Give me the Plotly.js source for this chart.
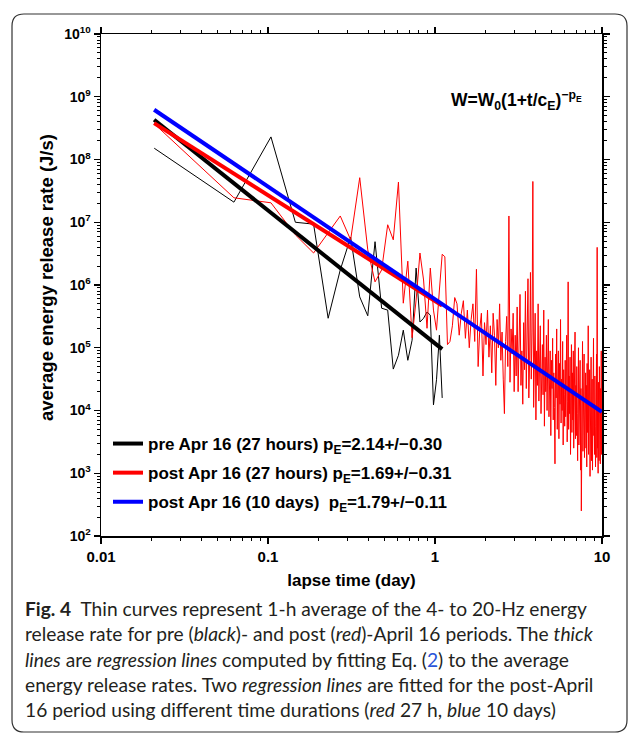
<!DOCTYPE html>
<html><head><meta charset="utf-8">
<script src="https://cdn.plot.ly/plotly-3.0.1.min.js"></script>
<style>html,body{margin:0;padding:0;background:#fff}#chart{width:635px;height:739px}</style>
</head><body><div id="chart"></div>
<script>
// 1-h averages, values given as log10 of energy release rate (J/s)
const preHourlyLog10 = [8.18, 7.32, 8.36, 7.00, 6.97, 5.47, 6.24, 6.76, 5.81, 5.51, 6.69, 5.63, 5.60, 4.66, 4.88, 5.28, 4.80, 5.12, 6.27, 5.41, 5.47, 5.57, 5.52, 4.09, 4.49, 5.20, 4.20];
const postHourlyLog10 = [
  8.57, 7.39, 7.31, 6.80, 6.51, 6.84, 7.10, 6.72, 7.71, 6.56, 6.05, 6.24, 6.96, 6.72, 7.64, 5.71, 6.38, 5.16, 5.76, 6.51, 6.08, 5.31, 6.27, 5.60, 5.28, 5.92, 6.49,
  6.45, 5.05, 5.10, 5.35, 5.80, 5.70, 5.20, 5.55, 5.75, 5.15, 5.60, 5.00, 5.45, 5.70, 5.10, 6.25, 4.70, 5.30, 5.55, 4.55, 5.40,
  5.05, 5.60, 4.85, 5.35, 4.60, 5.55, 5.20, 4.40, 5.45, 5.00, 5.70, 4.80, 5.25, 4.50, 3.95, 5.10, 5.50, 4.70, 7.10, 4.45, 5.30, 4.90, 5.55, 4.30,
  5.20, 4.55, 5.65, 4.30, 5.00, 5.85, 4.40, 4.95, 4.10, 5.40, 4.65, 5.90, 4.35, 5.10, 6.10, 4.20, 4.80, 6.20, 4.50, 5.25, 7.65, 4.05, 4.90, 5.55,
  3.85, 4.95, 4.40, 5.70, 4.15, 4.75, 5.35, 3.95, 4.60, 5.05, 4.25, 5.60, 3.75, 4.85, 4.30, 5.20, 4.00, 4.70, 5.45, 3.90, 4.55, 4.95, 3.60, 4.80,
  4.35, 5.15, 3.85, 4.60, 4.05, 3.15, 4.90, 4.20, 5.30, 3.70, 4.45, 4.95, 3.55, 4.75, 4.10, 5.45, 3.80, 4.50, 4.00, 5.10, 3.45, 4.65, 4.25, 3.75,
  4.80, 3.90, 4.40, 5.20, 3.50, 4.15, 6.05, 3.70, 4.55, 3.95, 4.85, 3.30, 4.30, 5.05, 3.65, 4.60, 3.85, 4.95, 3.40, 4.25, 3.75, 5.25, 3.55, 4.40,
  3.60, 4.70, 3.95, 3.20, 4.45, 5.00, 3.45, 4.10, 3.70, 4.80, 3.05, 4.35, 2.40, 4.55, 3.85, 5.10, 3.35, 4.20, 3.60, 4.90, 3.25, 4.05, 3.70, 4.60,
  3.40, 4.40, 3.10, 4.75, 3.65, 3.95, 5.35, 3.30, 4.15, 3.55, 4.65, 2.95, 4.00, 3.50, 4.85, 3.20, 3.90, 4.50, 3.05, 4.25, 3.45, 5.15, 3.60, 4.10,
  3.30, 4.55, 3.75, 3.10, 4.30, 3.55, 4.90, 3.25, 6.60, 3.40, 4.05, 3.00, 4.45, 3.60, 3.20, 4.70, 3.45, 3.85, 3.15, 4.35, 3.55, 4.95, 3.30, 4.00
];
// regression lines (end points, day / J/s)
const preFitTime = [0.0208, 1.104];
const preFitRate = [4.3e8, 9.5e4];
const post27FitTime = [0.0208, 1.104];
const post27FitRate = [3.8e8, 4.7e5];
const post10dFitTime = [0.0208, 9.98];
const post10dFitRate = [6.2e8, 9.5e3];

const legendNames = [
  'pre Apr 16 (27 hours) p<sub>E</sub>=2.14+/\u22120.30',
  'post Apr 16 (27 hours) p<sub>E</sub>=1.69+/\u22120.31',
  'post Apr 16 (10 days)&nbsp; p<sub>E</sub>=1.79+/\u22120.11'
];
const xTickVals = [0.01, 0.1, 1, 10];
const xTickText = ['0.01', '0.1', '1', '10'];
const yExponents = [2, 3, 4, 5, 6, 7, 8, 9, 10];

// hourly bin centres in days
const hourCentres = n => Array.from({length: n}, (_, i) => (i + 0.5) / 24);
const fromLog = a => a.map(v => Math.pow(10, v));

const FONT = 'Liberation Sans, Arial, Helvetica, sans-serif';
const L = 101, R = 602, T = 34, B = 536;
const px = x => (x - L) / (R - L);
const py = y => (B - y) / (B - T);

function minorVals(lo, hi) {
  const out = [];
  for (let e = lo; e < hi; e++) for (let d = 2; d <= 9; d++) out.push(d * Math.pow(10, e));
  return out;
}

const traces = [
  {x: hourCentres(preHourlyLog10.length), y: fromLog(preHourlyLog10), mode: 'lines',
   line: {color: 'black', width: 1}, showlegend: false, hoverinfo: 'skip'},
  {x: hourCentres(postHourlyLog10.length), y: fromLog(postHourlyLog10), mode: 'lines',
   line: {color: '#ff0000', width: 1}, showlegend: false, hoverinfo: 'skip'},
  {x: preFitTime, y: preFitRate, mode: 'lines', name: legendNames[0], legendgroup: 'a',
   line: {color: 'black', width: 4}},
  {x: post27FitTime, y: post27FitRate, mode: 'lines', name: legendNames[1], legendgroup: 'b',
   line: {color: '#ff0000', width: 4}},
  {x: post10dFitTime, y: post10dFitRate, mode: 'lines', name: legendNames[2], legendgroup: 'c',
   line: {color: '#0000ff', width: 4}}
];

const c = (x, y) => px(x).toFixed(5) + ',' + py(y).toFixed(5);
const bl = 12, br = 627, bt = 14, bb = 732, rr = 12;
const borderPath = 'M' + c(bl + rr, bt) + ' L' + c(br - rr, bt) + ' Q' + c(br, bt) + ' ' + c(br, bt + rr) +
  ' L' + c(br, bb - rr) + ' Q' + c(br, bb) + ' ' + c(br - rr, bb) +
  ' L' + c(bl + rr, bb) + ' Q' + c(bl, bb) + ' ' + c(bl, bb - rr) +
  ' L' + c(bl, bt + rr) + ' Q' + c(bl, bt) + ' ' + c(bl + rr, bt) + ' Z';

const captionLines = [
  '<b>Fig. 4</b>  Thin curves represent 1-h average of the 4- to 20-Hz energy',
  'release rate for pre (<i>black</i>)- and post (<i>red</i>)-April 16 periods. The <i>thick</i>',
  '<i>lines</i> are <i>regression lines</i> computed by fitting Eq. (<span style="color:#2b55d8">2</span>) to the average',
  'energy release rates. Two <i>regression lines</i> are fitted for the post-April',
  '16 period using different time durations (<i>red</i> 27 h, <i>blue</i> 10 days)'
];
const captionY = [608, 633, 659, 684, 709];

const annotations = [
  {xref: 'paper', yref: 'paper', x: px(584), y: py(100), xanchor: 'right', yanchor: 'middle', showarrow: false,
   text: '<b>W=W<sub>0</sub>(1+t/c<sub>E</sub>)<sup>\u2212p<sub>E</sub></sup></b>',
   font: {family: FONT, size: 17.5, color: 'black'}},
  {xref: 'paper', yref: 'paper', x: px(46), y: py(278), xanchor: 'center', yanchor: 'middle', showarrow: false,
   textangle: -90, text: '<b>average energy release rate (J/s)</b>',
   font: {family: FONT, size: 18.5, color: 'black'}}
];
captionLines.forEach((t, i) => annotations.push({
  xref: 'paper', yref: 'paper', x: px(23), y: py(captionY[i]), xanchor: 'left', yanchor: 'middle',
  showarrow: false, text: t, font: {family: 'Lato, Open Sans, sans-serif', size: 19.2, color: '#231f20'}
}));

const axisCommon = {
  type: 'log', showgrid: false, zeroline: false, showline: true, linecolor: 'black', linewidth: 1.5,
  mirror: 'allticks', ticks: 'outside', ticklen: 6, tickwidth: 1.2, tickcolor: 'black'
};

const layout = {
  width: 635, height: 739,
  margin: {l: L, r: 635 - R, t: T, b: 739 - B},
  paper_bgcolor: 'white', plot_bgcolor: 'white',
  font: {family: FONT, color: 'black'},
  xaxis: Object.assign({}, axisCommon, {
    range: [-2, 1], tickmode: 'array', tickvals: xTickVals, ticktext: xTickText,
    tickfont: {family: FONT, size: 15, weight: 'bold', color: 'black'},
    minor: {tickmode: 'array', tickvals: minorVals(-2, 1), ticks: 'outside', ticklen: 3, tickwidth: 1, tickcolor: 'black', showgrid: false},
    title: {text: '<b>lapse time (day)</b>', font: {family: FONT, size: 17, color: 'black'}, standoff: 10}
  }),
  yaxis: Object.assign({}, axisCommon, {
    range: [2, 10], tickmode: 'array', tickvals: yExponents.map(e => Math.pow(10, e)),
    ticktext: yExponents.map(e => '10<sup>' + e + '</sup>'),
    tickfont: {family: FONT, size: 14, weight: 'bold', color: 'black'},
    minor: {tickmode: 'array', tickvals: minorVals(2, 10), ticks: 'outside', ticklen: 3, tickwidth: 1, tickcolor: 'black', showgrid: false}
  }),
  legend: {x: px(108), y: py(426), xanchor: 'left', yanchor: 'top', bgcolor: 'rgba(0,0,0,0)',
    font: {family: FONT, size: 17, weight: 'bold', color: 'black'}, tracegroupgap: 4, itemwidth: 30},
  shapes: [{type: 'path', xref: 'paper', yref: 'paper', path: borderPath, line: {color: '#333', width: 1.2}, layer: 'below'}],
  annotations: annotations,
  showlegend: true
};

Plotly.newPlot('chart', traces, layout, {displayModeBar: false, staticPlot: true});
</script></body></html>
